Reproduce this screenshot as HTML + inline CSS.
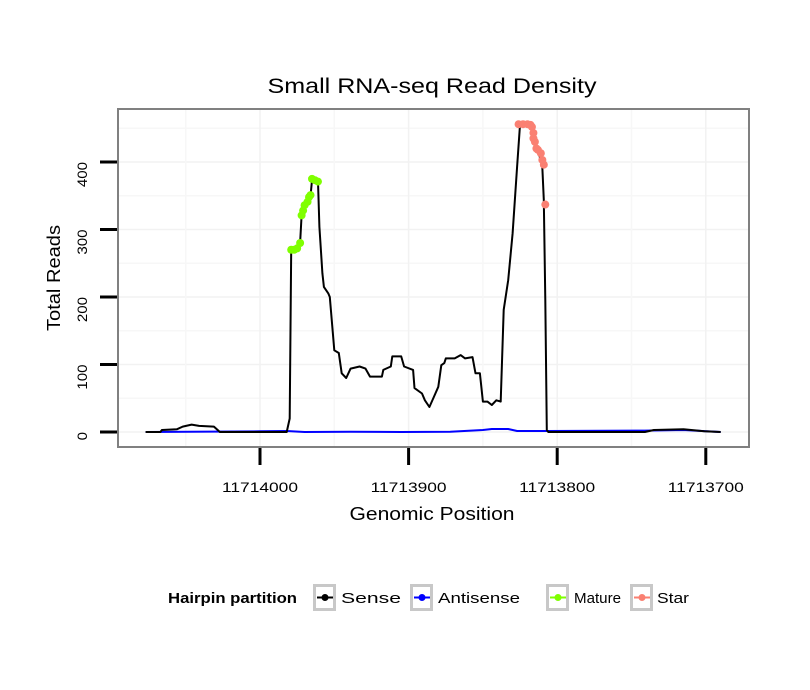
<!DOCTYPE html>
<html><head><meta charset="utf-8"><style>
body{margin:0;background:#fff;}
svg{display:block;font-family:"Liberation Sans",sans-serif;}
</style></head><body>
<svg id="chart" width="810" height="690" viewBox="0 0 810 690">
<defs><clipPath id="panelClip"><rect x="118" y="109" width="631" height="338"/></clipPath></defs>
<text x="432" y="93" font-size="21" text-anchor="middle" textLength="329" lengthAdjust="spacingAndGlyphs">Small RNA-seq Read Density</text>
<g id="grid" clip-path="url(#panelClip)"></g>
<g id="series"></g>
<rect x="118" y="109" width="631" height="338" fill="none" stroke="#808080" stroke-width="2"/>
<g id="axes"></g>
<text x="432" y="520" font-size="18" text-anchor="middle" textLength="165" lengthAdjust="spacingAndGlyphs">Genomic Position</text>
<text transform="translate(60,278) rotate(-90)" font-size="18" text-anchor="middle" textLength="106" lengthAdjust="spacingAndGlyphs">Total Reads</text>
<g id="legend">
<text x="168" y="603" font-size="15" font-weight="bold" textLength="129" lengthAdjust="spacingAndGlyphs">Hairpin partition</text>
</g>
</svg>
<script>
const xTicks = [11714000, 11713900, 11713800, 11713700];
const yTicks = [0, 100, 200, 300, 400];
const sensePos = [11714077,11714067,11714066,11714056,11714052,11714046,11714041,11714031,11714027,11713982,11713980,11713979,11713977,11713974,11713973,11713972,11713970,11713967,11713966,11713965,11713961,11713960,11713958,11713957,11713954,11713953,11713950,11713947,11713945,11713942,11713939,11713933,11713929,11713926,11713924,11713918,11713917,11713912,11713911,11713905,11713903,11713897,11713896,11713891,11713889,11713886,11713883,11713880,11713878,11713876,11713875,11713869,11713865,11713862,11713857,11713855,11713852,11713850,11713847,11713844,11713841,11713838,11713836,11713833,11713830,11713827,11713825,11713817,11713816,11713813,11713810,11713809,11713808,11713807,11713806,11713741,11713735,11713715,11713701,11713690];
const senseVal = [0,0,3,4,8,11,9,8,0,0,20,270,270,275,280,321,334,344,349,373,371,304,235,215,205,200,121,117,87,80,94,97,94,82,82,82,92,97,112,112,97,92,65,57,47,37,52,67,99,102,109,109,114,109,111,87,87,45,45,40,47,45,181,225,294,393,455,452,428,418,393,344,196,3,0,0,3,4,1,0];
const antiPos = [11714077,11714000,11713982,11713970,11713939,11713905,11713872,11713850,11713844,11713833,11713827,11713807,11713741,11713715,11713690];
const antiVal = [0,1,1.5,0,0.5,0,0.5,3,4.5,4.5,1.5,1.5,2,3,0];
const maturePos = [11713979,11713977,11713975,11713973,11713972,11713971,11713970,11713968,11713967,11713966,11713965,11713963,11713961];
const matureVal = [270,270,272,280,321,328,336,341,348,351,375,373,371];
const starPos = [11713826,11713823,11713820,11713818,11713817,11713816,11713816,11713815,11713814,11713813,11713811,11713810,11713809,11713808];
const starVal = [456,456,456,455,452,443,435,430,420,418,413,403,396,337];
const legendLabels = ['Sense','Antisense','Mature','Star'];
const legendColors = ['#000000','#0000ff','#7fff00','#fa8072'];

const NS='http://www.w3.org/2000/svg';
const X = p => 260 + (11714000 - p) * 1.486;
const Y = v => 432 - v * 0.675;
function mk(tag, attrs, parent){const e=document.createElementNS(NS,tag);for(const k in attrs)e.setAttribute(k,attrs[k]);parent.appendChild(e);return e;}
const grid=document.getElementById('grid'), series=document.getElementById('series'), axes=document.getElementById('axes'), legend=document.getElementById('legend');

for(let i=0;i<yTicks.length;i++){
  const g=mk('line',{x1:118,x2:749,y1:Y(yTicks[i]),y2:Y(yTicks[i]),stroke:'#f2f2f2','stroke-width':1.5},grid);
  
  
  const m=mk('line',{x1:118,x2:749,y1:Y(yTicks[i]+50),y2:Y(yTicks[i]+50),stroke:'#f7f7f7','stroke-width':1.5},grid);
  
  
}
for(let i=0;i<xTicks.length;i++){
  const g=mk('line',{x1:X(xTicks[i]),x2:X(xTicks[i]),y1:109,y2:447,stroke:'#f2f2f2','stroke-width':1.5},grid);
  
  
  const m=mk('line',{x1:X(xTicks[i]+50),x2:X(xTicks[i]+50),y1:109,y2:447,stroke:'#f7f7f7','stroke-width':1.5},grid);
  
  
}
yTicks.forEach(v=>{
  const t=mk('line',{x1:100,x2:117,y1:Y(v),y2:Y(v),stroke:'#000','stroke-width':3},axes);
  
  
  const s=String(v);
  const l=mk('text',{transform:`translate(87,${Y(v)}) rotate(-90)`,'font-size':14,'text-anchor':'end',textLength:s.length*8.4,lengthAdjust:'spacingAndGlyphs'},axes);
  l.textContent=s;
  
  
});
xTicks.forEach(p=>{
  const t=mk('line',{x1:X(p),x2:X(p),y1:448,y2:465,stroke:'#000','stroke-width':3},axes);
  
  
  const l=mk('text',{x:X(p),y:492,'font-size':14,'text-anchor':'middle',textLength:76,lengthAdjust:'spacingAndGlyphs'},axes);
  l.textContent=p;
  
  
});
function line(pos,val,color,name){
  const d=pos.map((p,i)=>(i?'L':'M')+X(p).toFixed(1)+','+Y(val[i]).toFixed(1)).join('');
  const e=mk('path',{d:d,fill:'none',stroke:color,'stroke-width':2,'stroke-linejoin':'round'},series);
  
  
}
function pts(pos,val,color,name){
  pos.forEach((p,i)=>{
    const c=mk('circle',{cx:X(p),cy:Y(val[i]),r:4,fill:color},series);
    
    
  });
}
line(antiPos,antiVal,'#0000ff','antisense-line');
line(sensePos,senseVal,'#000000','sense-line');
pts(maturePos,matureVal,'#7fff00','mature-point');
pts(starPos,starVal,'#fa8072','star-point');
const keyX=[313,410,546,630], txtX=[341,438,574,657], txtW=[60,82,47,32];
legendLabels.forEach((lab,i)=>{
  const b=mk('rect',{x:keyX[i]+1.5,y:585.5,width:20,height:24,fill:'#fff',stroke:'#c8c8c8','stroke-width':3},legend);
  
  
  mk('line',{x1:keyX[i]+4,x2:keyX[i]+20,y1:597.5,y2:597.5,stroke:legendColors[i],'stroke-width':2},legend);
  mk('circle',{cx:keyX[i]+12,cy:597.5,r:3.5,fill:legendColors[i]},legend);
  const t=mk('text',{x:txtX[i],y:603,'font-size':15,textLength:txtW[i],lengthAdjust:'spacingAndGlyphs'},legend);
  t.textContent=lab;
  
  
});
</script>
</body></html>
